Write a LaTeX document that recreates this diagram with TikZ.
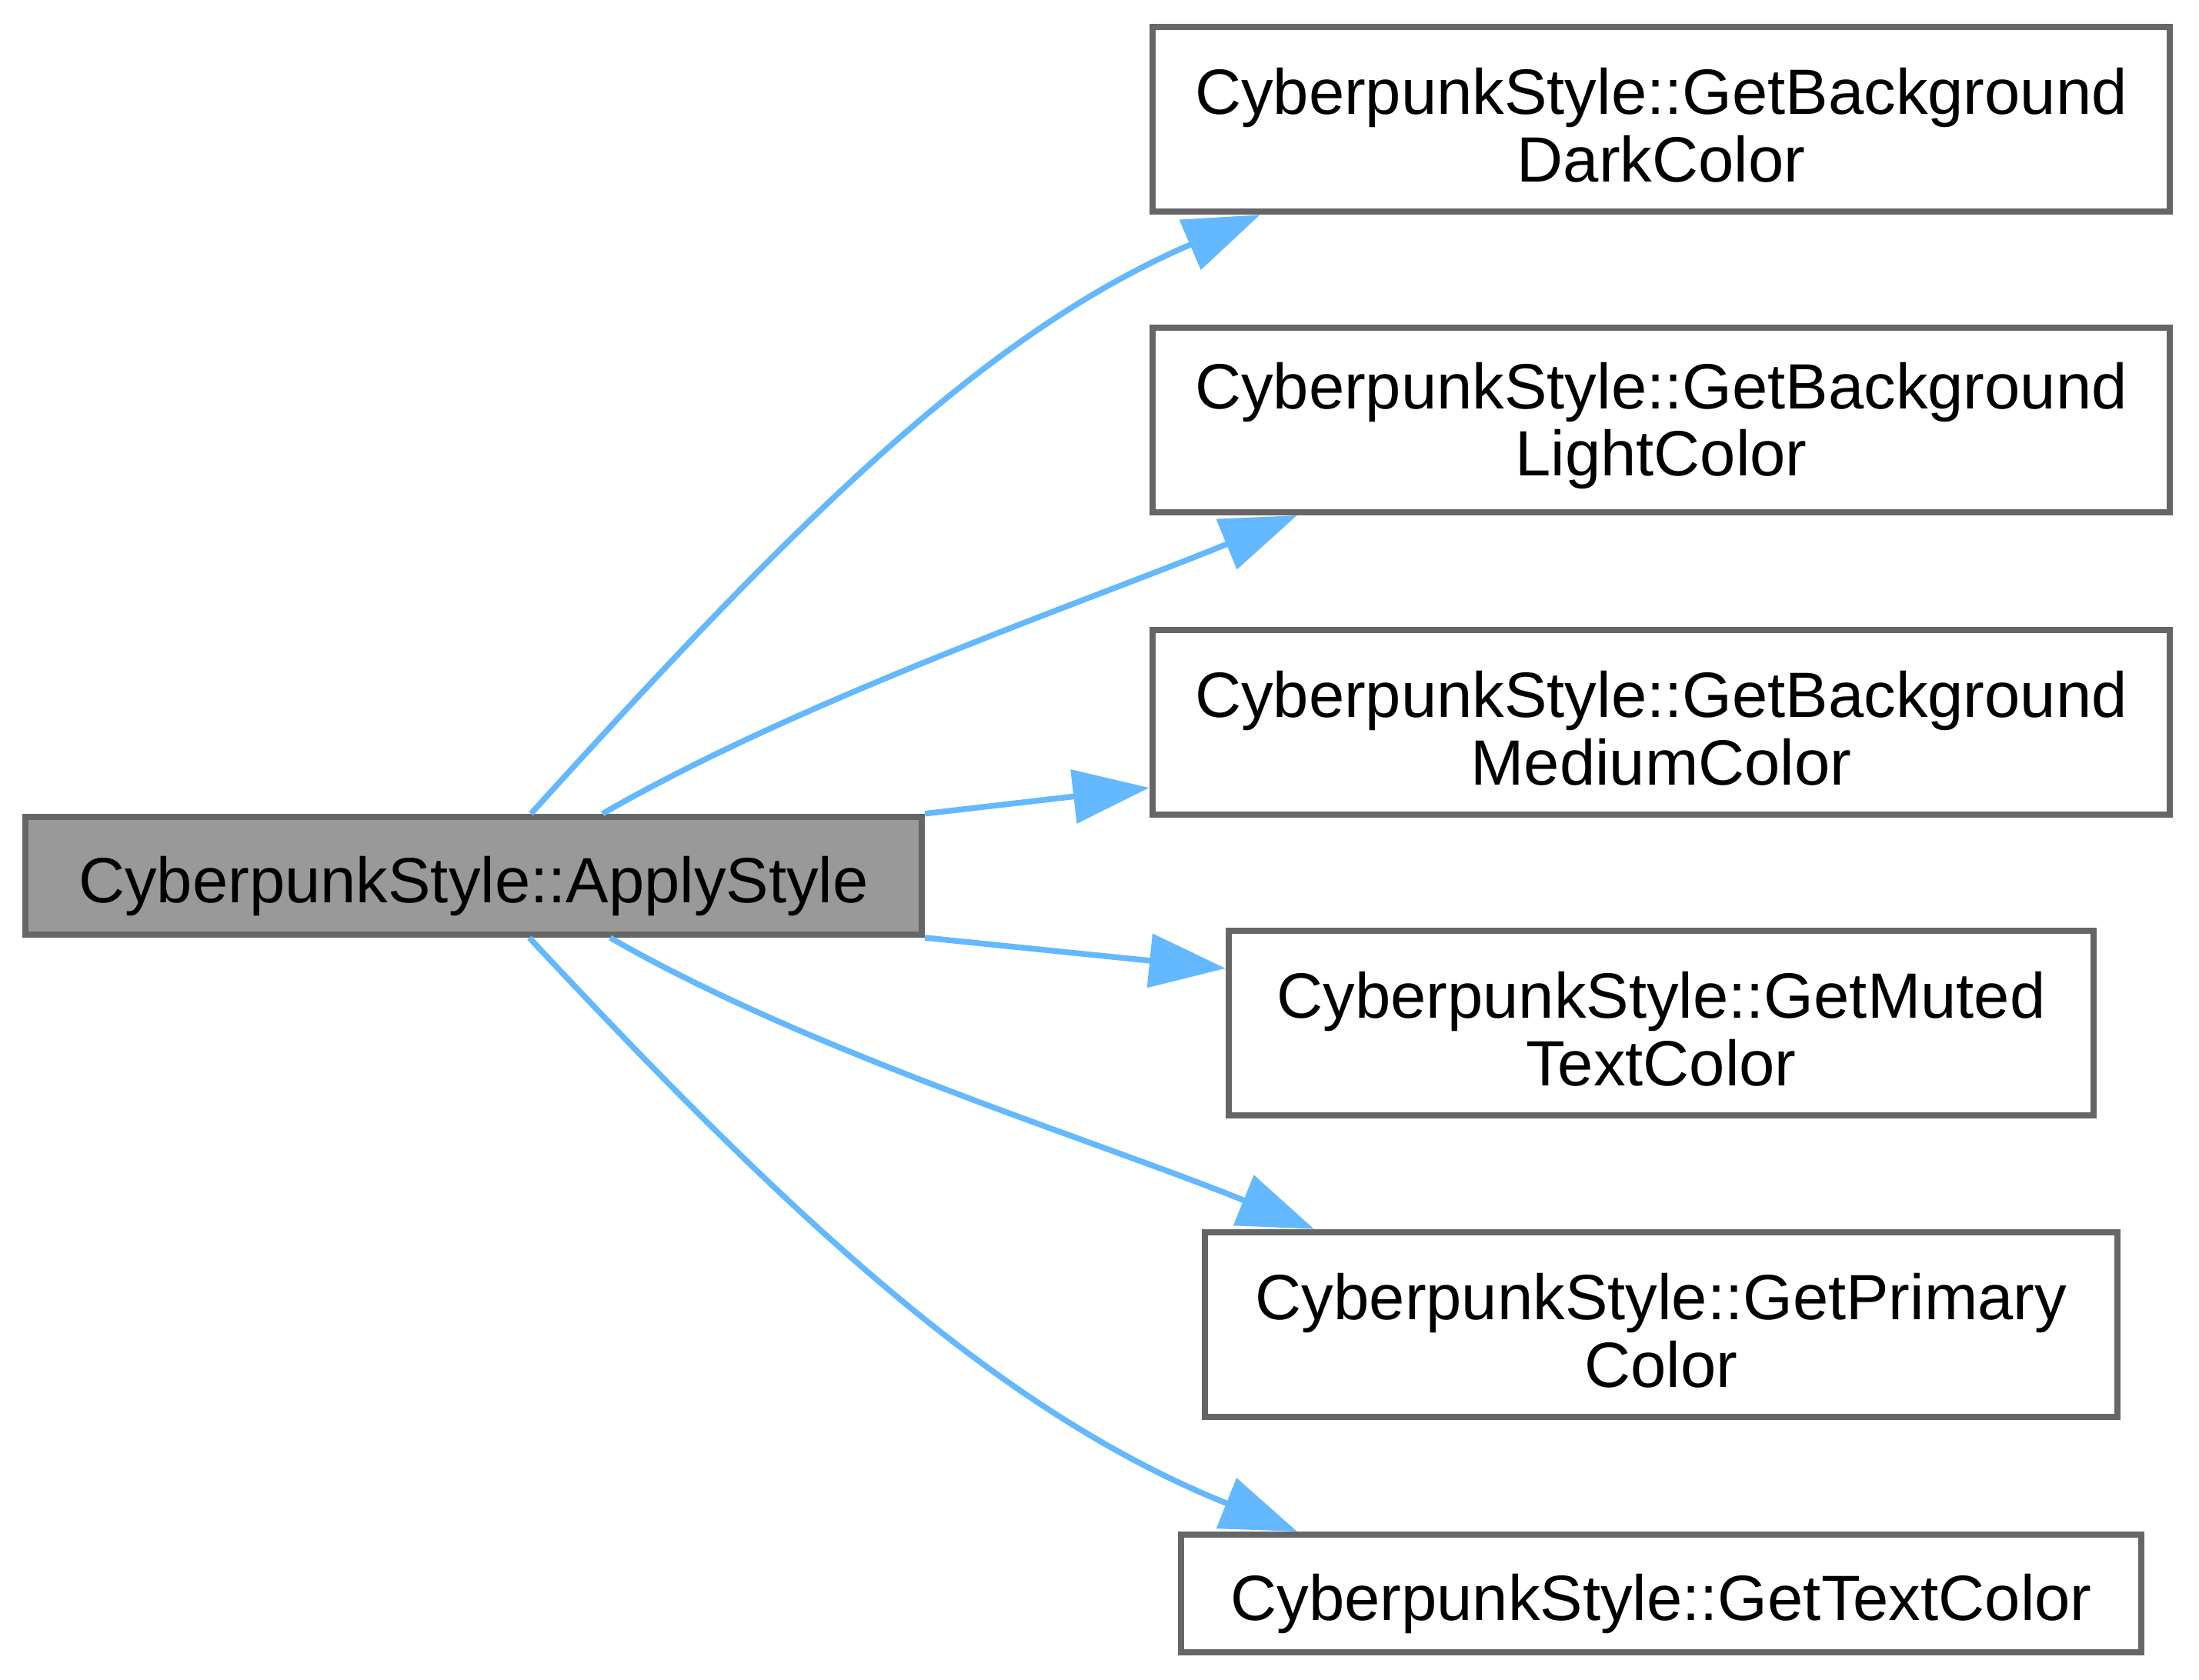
\documentclass[tikz,border=0pt]{standalone}
\usepackage{fontspec}
\setmainfont{Liberation Sans}
\usetikzlibrary{arrows.meta}
\definecolor{edgeblue}{HTML}{63B8FF}
\definecolor{boxgray}{HTML}{666666}
\definecolor{mainfill}{HTML}{999999}

\begin{document}
\begin{tikzpicture}[
    >={Triangle[length=11.9pt, width=8.3pt]},
    fn/.style = {
        rectangle, draw = boxgray, line width = 1pt,
        fill = white, align = center, inner sep = 0pt,
        font = \fontsize{10}{10.5}\selectfont
    },
    twoline/.style = {fn, minimum height = 1.014cm, text height = 19.6pt},
    oneline/.style = {fn, minimum height = 0.646cm, text height = 10.4pt},
    call/.style = {->, draw = edgeblue, line width = 0.9pt}
]
\useasboundingbox (0,0) rectangle (12.073,-9.222);

% --- Caller on the left ---
\node[oneline, fill = mainfill, minimum width = 4.921cm] (apply) at (2.600,-4.809) {CyberpunkStyle::ApplyStyle};

% --- Callees, one column (absolute coordinates, cm) ---
\node[twoline, minimum width = 5.585cm] (dark)    at (9.120,-0.655) {CyberpunkStyle::GetBackground\\DarkColor};

\node[twoline, minimum width = 5.585cm] (light)   at (9.120,-2.306) {CyberpunkStyle::GetBackground\\LightColor};

\node[twoline, minimum width = 5.585cm] (medium)  at (9.120,-3.967) {CyberpunkStyle::GetBackground\\MediumColor};

\node[twoline, minimum width = 4.748cm] (muted)   at (9.120,-5.618) {CyberpunkStyle::GetMuted\\TextColor};

\node[twoline, minimum width = 5.010cm] (primary) at (9.120,-7.274) {CyberpunkStyle::GetPrimary\\Color};

\node[oneline, minimum width = 5.272cm] (textc)   at (9.120,-8.751) {CyberpunkStyle::GetTextColor};

% --- Calls ---
\draw[call] ([xshift=0.315cm]apply.north) .. controls (4.330,-2.906) and (5.382,-1.838) .. ([xshift=0.608cm]dark.south west);

\draw[call] ([xshift=0.708cm]apply.north) .. controls (4.406,-3.836) and (5.965,-3.303) .. ([xshift=0.811cm]light.south west);

\draw[call] (apply.north east) -- ([yshift=-0.359cm]medium.west);

\draw[call] (apply.south east) -- ([yshift=0.300cm]muted.west);

\draw[call] ([xshift=0.750cm]apply.south) .. controls (4.448,-5.783) and (6.058,-6.277) .. ([xshift=0.617cm]primary.north west);

\draw[call] ([xshift=0.306cm]apply.south) .. controls (4.343,-6.691) and (5.487,-7.756) .. ([xshift=0.655cm]textc.north west);

\end{tikzpicture}
\end{document}
